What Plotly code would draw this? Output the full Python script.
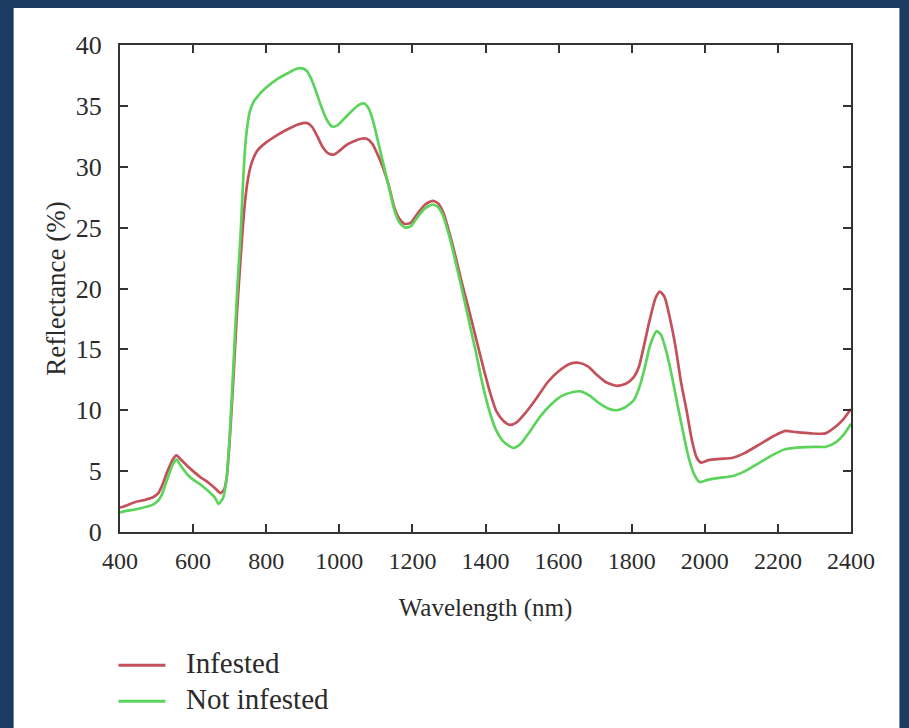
import plotly.graph_objects as go

# ---- data ----
wl_infested = [400, 420, 440, 470, 490, 505, 515, 530, 545, 555, 565, 585, 600, 620, 640, 660, 675, 685, 692,
               700, 710, 720, 730, 740, 750, 760, 775, 800, 830, 860, 890, 910, 925, 940, 955, 970, 985, 1000,
               1020, 1040, 1060, 1075, 1090, 1105, 1120, 1135, 1150, 1165, 1180, 1195, 1215, 1235, 1255, 1270,
               1285, 1300, 1315, 1335, 1355, 1375, 1395, 1415, 1430, 1450, 1467, 1485, 1510, 1540, 1570, 1600,
               1630, 1655, 1680, 1705, 1730, 1760, 1785, 1805, 1820, 1835, 1850, 1865, 1877, 1890, 1905, 1920,
               1935, 1950, 1965, 1978, 1990, 2010, 2040, 2077, 2110, 2150, 2190, 2220, 2250, 2290, 2330, 2360,
               2380, 2400]
refl_infested = [2.0, 2.2, 2.45, 2.65, 2.85, 3.2, 3.8, 5.0, 6.0, 6.3, 6.0, 5.4, 5.0, 4.5, 4.1, 3.6, 3.2, 3.5, 4.5,
                 7.5, 12.5, 18.0, 22.5, 26.5, 29.0, 30.3, 31.3, 32.0, 32.6, 33.1, 33.5, 33.6, 33.3, 32.5, 31.6,
                 31.1, 31.0, 31.3, 31.8, 32.1, 32.3, 32.3, 31.9, 31.0, 29.9, 28.5, 26.7, 25.7, 25.3, 25.4, 26.2,
                 26.9, 27.2, 27.0, 26.2, 24.7, 23.0, 20.5, 18.2, 15.8, 13.4, 11.2, 9.9, 9.1, 8.8, 9.0, 9.8, 11.0,
                 12.3, 13.2, 13.8, 13.9, 13.6, 12.9, 12.3, 12.0, 12.2, 12.7, 13.6, 15.5, 17.5, 19.2, 19.75, 19.3,
                 17.5, 15.2, 12.3, 10.0, 7.5, 6.1, 5.7, 5.9, 6.0, 6.1, 6.5, 7.2, 7.9, 8.3, 8.2, 8.1, 8.1, 8.7,
                 9.3, 10.1]

wl_not_infested = [400, 420, 440, 470, 490, 505, 515, 530, 545, 555, 565, 585, 600, 620, 640, 660, 670, 682, 692,
                   700, 710, 720, 730, 738, 745, 755, 765, 780, 800, 830, 860, 880, 895, 910, 922, 935, 950, 965,
                   980, 995, 1015, 1035, 1055, 1068, 1080, 1092, 1105, 1120, 1135, 1150, 1165, 1180, 1195, 1215,
                   1235, 1255, 1270, 1285, 1300, 1315, 1335, 1355, 1375, 1390, 1410, 1430, 1450, 1476, 1495, 1520,
                   1550, 1580, 1610, 1640, 1660, 1685, 1710, 1735, 1758, 1780, 1805, 1820, 1835, 1850, 1868, 1880,
                   1895, 1910, 1925, 1940, 1955, 1970, 1986, 2010, 2040, 2077, 2110, 2150, 2190, 2220, 2260, 2300,
                   2332, 2360, 2380, 2400]
refl_not_infested = [1.6, 1.75, 1.85, 2.05, 2.25, 2.6, 3.1, 4.4, 5.6, 5.95, 5.5, 4.7, 4.3, 3.9, 3.4, 2.8, 2.3, 2.8,
                     4.5, 7.8, 13.5, 19.5, 24.5, 29.5, 32.5, 34.5, 35.3, 35.9, 36.5, 37.2, 37.7, 38.0, 38.1, 37.9,
                     37.3, 36.3, 35.0, 33.9, 33.3, 33.4, 34.0, 34.6, 35.1, 35.2, 34.8, 33.8, 32.2, 30.3, 28.4, 26.5,
                     25.4, 25.0, 25.1, 25.9, 26.6, 26.9, 26.7, 25.9, 24.4, 22.6, 20.0, 17.3, 14.6, 12.4, 10.0, 8.3,
                     7.4, 6.9, 7.2, 8.2, 9.5, 10.5, 11.2, 11.5, 11.55, 11.2, 10.6, 10.15, 10.0, 10.2, 10.8, 11.8,
                     13.4, 15.3, 16.5, 16.2, 14.8, 12.8, 10.5, 8.3, 6.2, 4.8, 4.1, 4.3, 4.45, 4.6, 5.0, 5.7, 6.4,
                     6.8, 6.95, 7.0, 7.0, 7.4, 8.0, 8.9]

series_names = ["Infested", "Not infested"]
series_colors = ["#c4505b", "#5cd45c"]
x_ticks = list(range(400, 2401, 200))
y_ticks = list(range(0, 41, 5))

FONT = "Liberation Serif, Times New Roman, serif"
TXT = "#2b2b2b"

fig = go.Figure()
for name, color, xs, ys in zip(series_names, series_colors,
                               [wl_infested, wl_not_infested],
                               [refl_infested, refl_not_infested]):
    fig.add_trace(go.Scatter(x=xs, y=ys, mode="lines", name=name,
                             line=dict(color=color, width=2.7, shape="spline", smoothing=0.6),
                             showlegend=False))

# plot-area geometry in pixels (for layout elements)
L, R, T, B = 119.5, 851.5, 45, 532.5
W, H = R - L, B - T
def px(xp):
    return (xp - L) / W
def py(yp):
    return (B - yp) / H

shapes = [dict(type="rect", xref="paper", yref="paper", layer="below",
               x0=px(13), x1=px(900), y0=py(740), y1=py(8),
               fillcolor="white", line=dict(width=0))]
annotations = []
legend_y = [666, 702]
for name, color, ly in zip(series_names, series_colors, legend_y):
    shapes.append(dict(type="line", xref="paper", yref="paper",
                       x0=px(118), x1=px(165), y0=py(ly), y1=py(ly),
                       line=dict(color=color, width=3)))
    annotations.append(dict(text=name, xref="paper", yref="paper", x=px(184), y=py(ly - 2),
                            xanchor="left", yanchor="middle", showarrow=False,
                            font=dict(family=FONT, size=29, color=TXT)))

fig.update_layout(
    width=909, height=728,
    margin=dict(l=L, r=909 - R, t=T, b=728 - B, autoexpand=False),
    paper_bgcolor="#1b3b62",
    plot_bgcolor="white",
    font=dict(family=FONT, color=TXT),
    shapes=shapes,
    annotations=annotations,
    showlegend=False,
    xaxis=dict(range=[400, 2400], tickvals=x_ticks, ticks="inside", ticklen=8, tickwidth=2,
               tickcolor="#333", showline=True, linewidth=2, linecolor="#333", mirror="ticks",
               showgrid=False, zeroline=False, tickfont=dict(size=24, color=TXT),
               ticklabelstandoff=6,
               title=dict(text="Wavelength (nm)", font=dict(size=25, color=TXT), standoff=26)),
    yaxis=dict(range=[0, 40], tickvals=y_ticks, ticks="inside", ticklen=8, tickwidth=2,
               tickcolor="#333", showline=True, linewidth=2, linecolor="#333", mirror="ticks",
               showgrid=False, zeroline=False, tickfont=dict(size=26, color=TXT),
               ticklabelstandoff=11,
               title=dict(text="Reflectance (%)", font=dict(size=27, color=TXT), standoff=2)),
)

fig.write_html("out.html")
